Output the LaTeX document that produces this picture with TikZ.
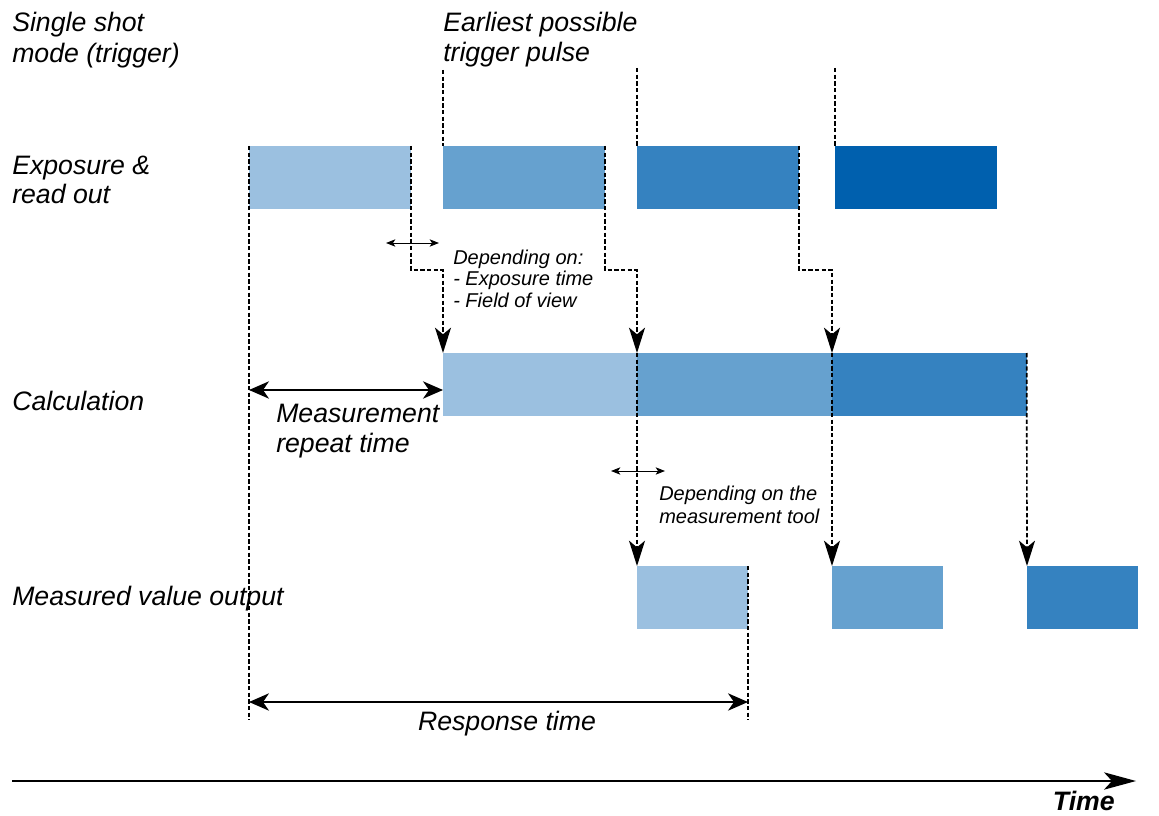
\documentclass[tikz,border=0pt]{standalone}
\usepackage{fontspec}
\setmainfont{Liberation Sans}
\usetikzlibrary{arrows.meta,calc}
\definecolor{cA}{HTML}{9BC0E0}
\definecolor{cB}{HTML}{66A1CF}
\definecolor{cC}{HTML}{3582C0}
\definecolor{cD}{HTML}{0060AE}
\begin{document}
\begin{tikzpicture}[x=0.75pt,y=-0.75pt,
  bar/.style={draw=none,inner sep=0pt,outer sep=0pt,anchor=north west,minimum height=47.25pt},
  wE/.style={bar,minimum width=121.5pt},
  wC/.style={bar,minimum width=146pt},
  wO/.style={bar,minimum width=83.25pt},
  lbl/.style={anchor=base west,inner sep=0pt,font=\itshape\fontsize{20}{24}\selectfont},
  sml/.style={anchor=base west,inner sep=0pt,font=\itshape\fontsize{15}{16.5}\selectfont},
  dsh/.style={line width=1.25pt,dash pattern=on 3.2pt off 1.8pt},
  bigtip/.style={-{Stealth[length=19pt,width=12pt,inset=5pt]}},
  dimline/.style={line width=1.2pt,{Stealth[length=15pt,width=13pt,inset=4.5pt]}-{Stealth[length=15pt,width=13pt,inset=4.5pt]}},
  thin/.style={line width=0.7pt,{Stealth[length=7pt,width=5.5pt,inset=1.8pt]}-{Stealth[length=7pt,width=5.5pt,inset=1.8pt]}}
]
\useasboundingbox (0,0) rectangle (1159,816);

% exposure row
\node[wE,fill=cA] (e1) at (249,146) {};
\node[wE,fill=cB] (e2) at (443,146) {};
\node[wE,fill=cC] (e3) at (637,146) {};
\node[wE,fill=cD] (e4) at (835,146) {};
% calculation row
\node[wC,fill=cA] (c1) at (443,353) {};
\node[wC,fill=cB] (c2) at (637,353) {};
\node[wC,fill=cC] (c3) at (832,353) {};
% output row
\node[wO,fill=cA] (o1) at (637,566) {};
\node[wO,fill=cB] (o2) at (832,566) {};
\node[wO,fill=cC] (o3) at (1027,566) {};

% trigger pulses
\coordinate (t2) at (443,70);
\coordinate (t3) at (637,68);
\coordinate (t4) at (835,68);
\draw[dsh] (t2) -- (e2.north west);
\draw[dsh] (t3) -- (e3.north west);
\draw[dsh] (t4) -- (e4.north west);

% exposure -> calculation
\draw[dsh,bigtip] (e1.north east) -- ++(0,124) -| (c1.north west);
\draw[dsh,bigtip] (e2.north east) -- ++(0,124) -| (c2.north west);
\draw[dsh,bigtip] (e3.north east) -- ++(0,124) -| (c3.north west);

% calculation -> output
\draw[dsh,bigtip] (c2.north west) -- (o1.north west);
\draw[dsh,bigtip] (c3.north west) -- (o2.north west);
\draw[dsh,bigtip] (c3.north east) -- (o3.north west);

% reference lines
\coordinate (l1) at (249,720);
\coordinate (l2) at (748,720);
\draw[dsh] (e1.north west) -- (l1);
\draw[dsh] (o1.north east) -- (l2);

% dimension arrows
\coordinate (m1) at (249,390);
\draw[dimline] (m1) -- (m1 -| c1.west);
\coordinate (r1) at (249,702);
\draw[dimline] (r1) -- (r1 -| o1.east);

% small arrows
\coordinate (s1a) at (386,243);
\coordinate (s1b) at (439,243);
\draw[thin] (s1a) -- (s1b);
\coordinate (s2a) at (611,471);
\coordinate (s2b) at (665,471);
\draw[thin] (s2a) -- (s2b);

% time axis
\coordinate (ta) at (12,781);
\coordinate (tb) at (1136,781);
\draw[line width=1.3pt,-{Stealth[length=24pt,width=13pt,inset=6pt]}] (ta) -- (tb);

% labels
\node[lbl] (n1) at (12,32) {Single shot};
\node[lbl] (n2) at (12,63) {mode (trigger)};
\node[lbl] (n3) at (443,32) {Earliest possible};
\node[lbl] (n4) at (443,62) {trigger pulse};
\node[lbl] (n5) at (12,175) {Exposure \&};
\node[lbl] (n6) at (12,204) {read out};
\node[lbl] (n7) at (12,410) {Calculation};
\node[lbl] (n8) at (12,605) {Measured value output};
\node[lbl] (n9) at (276,422) {Measurement};
\node[lbl] (n10) at (276,452) {repeat time};
\node[lbl,anchor=base] (n11) at (507,730) {Response time};
\node[lbl,font=\bfseries\itshape\fontsize{20}{24}\selectfont,anchor=base east] (n12) at (1115,810) {Time};
\node[sml] (d1) at (453,265) {Depending on:};
\node[sml] (d2) at (453,286) {- Exposure time};
\node[sml] (d3) at (453,308) {- Field of view};
\node[sml] (d4) at (659,500) {Depending on the};
\node[sml] (d5) at (659,523) {measurement tool};
\end{tikzpicture}
\end{document}
